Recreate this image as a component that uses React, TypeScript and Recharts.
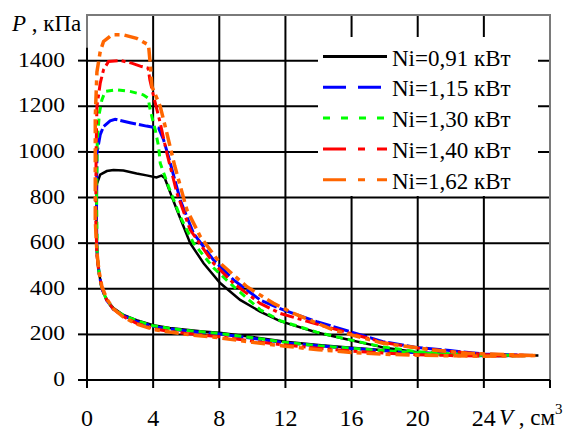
import React from "react";
import {
  LineChart,
  Line,
  XAxis,
  YAxis,
  CartesianGrid,
  ReferenceLine,
  ReferenceArea,
} from "recharts";

// V (cm3), P (kPa), one closed loop per power
const loop091: [number, number][] = [
  [0.6, 860], [0.8, 900], [1.2, 916], [1.6, 921], [2.2, 918], [3.0, 905], [3.6, 897], [4.2, 888],
  [4.5, 896], [4.7, 885], [4.93, 841], [5.44, 745], [6.24, 600], [7.05, 512], [8.05, 425], [9.26, 351],
  [10.47, 300], [11.68, 258], [13.9, 208], [15.9, 175], [17.9, 143], [20, 122], [22, 113], [24, 108],
  [27.3, 107], [24, 107], [22, 112], [20, 121], [18, 130], [16, 141], [14, 153], [12, 168], [10, 188],
  [8, 207], [7, 213], [6, 220], [5, 228], [4, 240], [3, 262], [2.2, 285], [1.6, 315], [1.2, 350],
  [0.9, 400], [0.75, 460], [0.62, 530], [0.57, 620], [0.57, 760], [0.6, 860],
];
const loop115: [number, number][] = [
  [0.57, 700], [0.6, 995], [0.8, 1075], [1.0, 1111], [1.4, 1136], [1.7, 1143], [2.6, 1128], [3.6, 1113],
  [4.33, 1104], [4.63, 1053], [4.93, 979], [5.64, 789], [6.44, 643], [7.65, 526], [8.86, 439],
  [10.47, 351], [11.88, 307], [13.9, 256], [15.9, 212], [17.9, 168], [19.9, 143], [21.95, 129],
  [23.97, 114], [27, 107], [24, 106], [22, 112], [20, 119], [18, 128], [16, 138], [14, 150], [12, 163],
  [10, 183], [8, 202], [6, 215], [5, 224], [4, 235], [3, 257], [2.2, 282], [1.6, 310], [1.2, 348],
  [0.9, 400], [0.75, 460], [0.62, 540], [0.57, 700],
];
const loop130: [number, number][] = [
  [0.58, 800], [0.62, 1050], [0.75, 1170], [0.9, 1228], [1.1, 1265], [1.8, 1272], [2.6, 1265],
  [3.4, 1250], [3.7, 1235], [3.82, 1184], [4.13, 1096], [4.33, 1023], [4.43, 950], [4.93, 848],
  [5.64, 716], [6.44, 600], [7.65, 492], [8.86, 410], [10.47, 308], [11.68, 260], [13.9, 210],
  [15.9, 176], [17.9, 145], [20, 124], [22, 115], [24, 109], [27, 107], [24, 106], [22, 111], [20, 119],
  [18, 128], [16, 139], [14, 150], [12, 165], [10, 185], [8, 204], [6, 217], [5, 226], [4, 238],
  [3, 260], [2.2, 284], [1.6, 312], [1.2, 348], [0.9, 400], [0.75, 460], [0.62, 540], [0.58, 800],
];
const loop140: [number, number][] = [
  [0.53, 700], [0.55, 1000], [0.6, 1200], [0.8, 1301], [1.0, 1360], [1.3, 1396], [2.0, 1401],
  [2.7, 1389], [3.3, 1374], [3.7, 1367], [3.8, 1316], [4.03, 1243], [4.43, 1126], [4.83, 994],
  [5.44, 819], [6.24, 658], [7.65, 512], [8.86, 424], [10.47, 336], [11.68, 292], [13.9, 245],
  [15.9, 205], [17.9, 165], [20, 140], [22, 125], [24, 112], [27, 107], [24, 105], [22, 107], [20, 111],
  [18, 118], [16, 127], [14, 139], [12, 153], [10, 170], [8, 190], [6, 204], [5, 213], [4, 225],
  [3, 248], [2.2, 278], [1.6, 310], [1.2, 350], [0.9, 405], [0.72, 470], [0.6, 550], [0.53, 700],
];
const loop162: [number, number][] = [
  [0.5, 700], [0.5, 1150], [0.6, 1350], [0.8, 1440], [1.0, 1484], [1.5, 1513], [2.2, 1513],
  [3.0, 1498], [3.72, 1469], [3.82, 1389], [3.93, 1286], [4.43, 1199], [4.83, 1082], [5.3, 940],
  [6.04, 746], [6.85, 629], [8.05, 512], [9.67, 409], [11.28, 336], [12.5, 292], [14.9, 219],
  [17.9, 161], [20.9, 132], [22.96, 117], [27.2, 107], [24, 104], [22, 106], [20, 109], [18, 113],
  [16, 121], [14, 133], [12, 148], [10, 165], [8, 185], [6, 200], [5, 210], [4, 222], [3, 245],
  [2.2, 276], [1.6, 312], [1.2, 355], [0.9, 410], [0.72, 480], [0.6, 560], [0.5, 700],
];

const volumeTicks = [0, 4, 8, 12, 16, 20, 24, 28];
const pressureTicks = [0, 200, 400, 600, 800, 1000, 1200, 1400];
const seriesNames = ["Ni=0,91 кВт", "Ni=1,15 кВт", "Ni=1,30 кВт", "Ni=1,40 кВт", "Ni=1,62 кВт"];

const toPoints = (loop: [number, number][]) => loop.map(([v, p]) => ({ v, p }));

const series = [
  { name: seriesNames[0], data: toPoints(loop091), color: "#000000", dash: undefined, legendDash: undefined, width: 2.5 },
  { name: seriesNames[1], data: toPoints(loop115), color: "#0000ff", dash: "16 3", legendDash: "23 12", width: 3 },
  { name: seriesNames[2], data: toPoints(loop130), color: "#00ff00", dash: "7 5", legendDash: "7 11", width: 3 },
  { name: seriesNames[3], data: toPoints(loop140), color: "#ff0000", dash: "14 4 4 4", legendDash: "23 12 7 12", width: 3 },
  { name: seriesNames[4], data: toPoints(loop162), color: "#ff6600", dash: "14 5 5 5", legendDash: "23 12 7 12", width: 3.5 },
];

const FONT = "Liberation Serif, Liberation Sans, Arimo, sans-serif";
const textStyle = { fontFamily: FONT };

const YTick = (props: any) => {
  const { x, y, payload } = props;
  return (
    <text
      transform={`translate(${x},${y + 6}) scale(1.12,1)`}
      textAnchor="end"
      style={textStyle}
      fontSize={21}
      fill="#000"
    >
      {payload.value}
    </text>
  );
};

const XTick = (props: any) => {
  const { x, y, payload } = props;
  if (payload.value === 28) return <g />;
  return (
    <text x={x} y={y + 36} textAnchor="middle" style={textStyle} fontSize={24} fill="#000">
      {payload.value}
    </text>
  );
};

export default function App() {
  return (
    <div style={{ position: "absolute", left: 0, top: 0, width: 572, height: 431, background: "#fff", fontFamily: FONT }}>
      <LineChart width={572} height={431} margin={{ top: 15, right: 22, bottom: 0, left: 0 }}>
        <CartesianGrid stroke="#000" strokeWidth={2} />
        <XAxis
          dataKey="v"
          type="number"
          domain={[0, 28]}
          ticks={volumeTicks}
          height={51}
          tickSize={8}
          tickMargin={2}
          axisLine={{ stroke: "#000", strokeWidth: 2 }}
          tickLine={{ stroke: "#000", strokeWidth: 2 }}
          tick={<XTick />}
          allowDataOverflow
        />
        <YAxis
          dataKey="p"
          type="number"
          domain={[0, 1600]}
          ticks={pressureTicks}
          width={87}
          tickSize={9}
          tickMargin={13}
          axisLine={false}
          tickLine={{ stroke: "#000", strokeWidth: 2 }}
          tick={<YTick />}
          allowDataOverflow
        />
        <ReferenceArea x1={0} x2={28} y1={0} y2={1600} fill="none" stroke="#7a7a7a" strokeWidth={2} />
        <ReferenceLine segment={[{ x: 0, y: 0 }, { x: 0, y: 1456 }]} stroke="#000" strokeWidth={2} />
        {series.map((s) => (
          <Line
            key={s.name}
            data={s.data}
            dataKey="p"
            name={s.name}
            type="linear"
            stroke={s.color}
            strokeWidth={s.width}
            strokeDasharray={s.dash}
            dot={false}
            isAnimationActive={false}
          />
        ))}
      </LineChart>
      <svg
        width={572}
        height={431}
        style={{ position: "absolute", left: 0, top: 0, pointerEvents: "none", fontFamily: FONT }}
      >
        <text x={12} y={31} fontSize={23} fill="#000" style={textStyle}>
          <tspan fontStyle="italic">P</tspan>
          <tspan> , кПа</tspan>
        </text>
        <text x={499} y={425} fontSize={23} fill="#000" style={textStyle}>
          <tspan fontStyle="italic">V</tspan>
          <tspan> , см</tspan>
          <tspan fontSize={15} dy={-11}>3</tspan>
        </text>
        <rect x={318} y={37} width={220} height={159} fill="#fff" />
        {series.map((s, i) => {
          const ly = 56.5 + i * 30.8;
          return (
            <g key={s.name}>
              <line
                x1={323}
                x2={387}
                y1={ly}
                y2={ly}
                stroke={s.color}
                strokeWidth={3}
                strokeDasharray={s.legendDash}
              />
              <text x={392} y={ly + 9} fontSize={23} fill="#000" style={textStyle}>
                {s.name}
              </text>
            </g>
          );
        })}
      </svg>
    </div>
  );
}
